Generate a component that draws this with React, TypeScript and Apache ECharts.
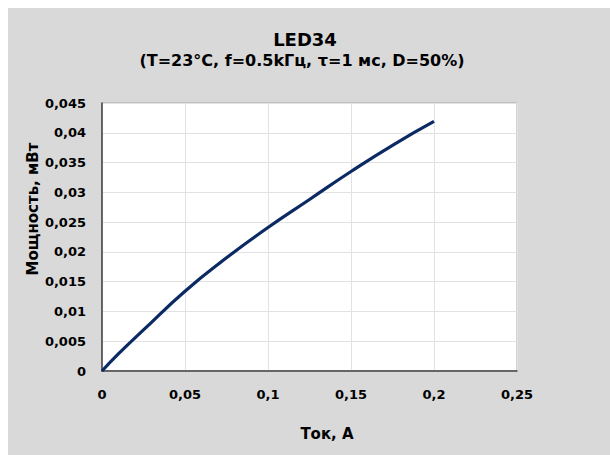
import React, { useEffect, useRef } from "react";
import * as echarts from "echarts";

const currentA: number[] = [0, 0.01, 0.025, 0.05, 0.075, 0.1, 0.125, 0.15, 0.175, 0.2];
const powerMW: number[] = [0, 0.0029, 0.0069, 0.0134, 0.019, 0.0241, 0.0288, 0.0335, 0.0379, 0.0419];
const titleText = "LED34";
const subtitleText = "(T=23°C, f=0.5kГц, τ=1 мс, D=50%)";
const xAxisName = "Ток, А";
const yAxisName = "Мощность, мВт";

const FONT = "DejaVu Sans";

function fmt(v: number): string {
  return String(parseFloat(v.toFixed(4))).replace(".", ",");
}

export default function App() {
  const ref = useRef<HTMLDivElement>(null);
  useEffect(() => {
    if (!ref.current) return;
    const chart = echarts.init(ref.current, undefined, { renderer: "svg" });
    const txt = (t: string, x: number, y: number, size: number, rot = 0) => ({
      type: "text",
      x,
      y,
      rotation: rot,
      style: {
        text: t,
        fontFamily: FONT,
        fontWeight: "bold",
        fontSize: size,
        fill: "#000",
        align: "center",
        verticalAlign: "middle",
      },
    });
    chart.setOption({
      animation: false,
      backgroundColor: "#d9d9d9",
      graphic: [
        txt(titleText, 297, 31, 18),
        txt(subtitleText, 294, 52, 16),
        txt(xAxisName, 319, 426, 15),
        txt(yAxisName, 25, 201, 15, Math.PI / 2),
      ],
      grid: { left: 94, right: 93, top: 95, bottom: 84, show: true, borderColor: "#a6a6a6", borderWidth: 1, backgroundColor: "#fff" },
      xAxis: {
        type: "value",
        min: 0,
        max: 0.25,
        interval: 0.05,
        axisLine: { show: true, lineStyle: { color: "#404040", width: 1.5 } },
        axisTick: { show: false },
        axisLabel: { formatter: fmt, fontFamily: FONT, fontWeight: "bold", fontSize: 13, color: "#000", margin: 17 },
        splitLine: { show: true, lineStyle: { color: "#e2e2e2", width: 1 } },
      },
      yAxis: {
        type: "value",
        min: 0,
        max: 0.045,
        interval: 0.005,
        axisLine: { show: true, lineStyle: { color: "#404040", width: 1.5 } },
        axisTick: { show: false },
        axisLabel: { formatter: fmt, fontFamily: FONT, fontWeight: "bold", fontSize: 13, color: "#000", margin: 16 },
        splitLine: { show: true, lineStyle: { color: "#e2e2e2", width: 1 } },
      },
      series: [
        {
          type: "line",
          data: currentA.map((x, i) => [x, powerMW[i]]),
          smooth: true,
          showSymbol: false,
          lineStyle: { color: "#0b2a63", width: 3.2 },
        },
      ],
    });
    return () => chart.dispose();
  }, []);
  return (
    <div
      ref={ref}
      style={{ position: "fixed", left: 8, top: 8, width: 602, height: 447 }}
    />
  );
}
